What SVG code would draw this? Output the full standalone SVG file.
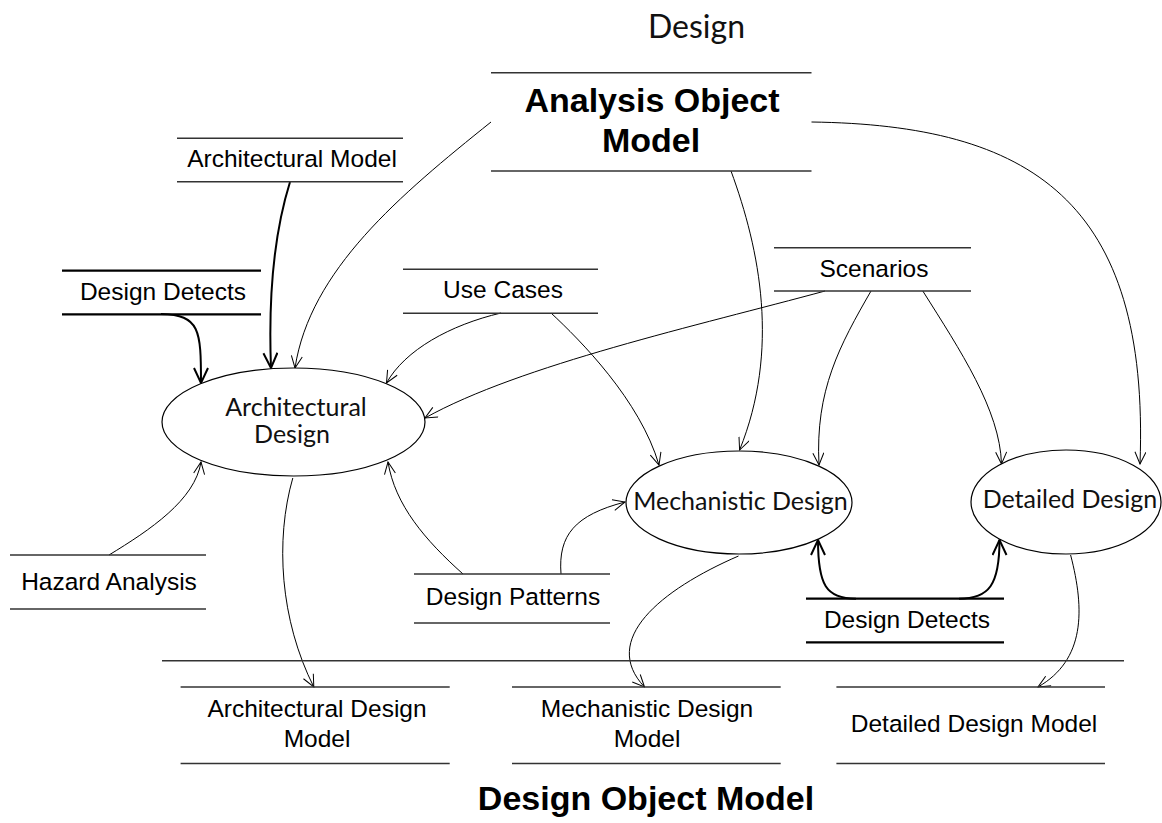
<svg xmlns="http://www.w3.org/2000/svg" width="1162" height="823" viewBox="0 0 1162 823">
  <defs>
    <style>
      .rule{stroke:#333;stroke-width:1.4}
      .rule-bold{stroke:#000;stroke-width:2.2}
      .lbl{font-family:"Liberation Sans",Arial,sans-serif;font-size:24.5px;fill:#000;text-anchor:middle}
      .big{font-family:"Liberation Sans",Arial,sans-serif;font-size:34px;font-weight:bold;fill:#000;text-anchor:middle}
      .proc{fill:#fff;stroke:#000;stroke-width:1.2}
      .ptxt{font-family:Lato,"Open Sans",sans-serif;font-size:25px;fill:#111;text-anchor:middle}
      .flow{fill:none;stroke:#000;stroke-width:1;marker-end:url(#arr)}
      .flow-bold{fill:none;stroke:#000;stroke-width:2;marker-end:url(#arrB)}
    </style>
    <marker id="arr" markerUnits="userSpaceOnUse" markerWidth="14" markerHeight="12" viewBox="0 0 14 12" refX="13" refY="6" orient="auto">
      <path d="M1,0.5 L13,6 L1,11.5" fill="none" stroke="#000" stroke-width="1"/>
    </marker>
    <marker id="arrB" markerUnits="userSpaceOnUse" markerWidth="18" markerHeight="16" viewBox="0 0 18 16" refX="16" refY="8" orient="auto">
      <path d="M1,1 L16,8 L1,15" fill="none" stroke="#000" stroke-width="2"/>
    </marker>
  </defs>
  <rect width="1162" height="823" fill="#fff"/>

  <text id="title" x="696.5" y="38" style="font-family:Lato,'Open Sans',sans-serif;font-size:32px;fill:#111;text-anchor:middle">Design</text>

  <!-- connectors -->
  <g id="connectors">
    <path class="flow" d="M491,122 C400,195 310,270 295,368"/>
    <path class="flow-bold" d="M290,182 C275,230 268,290 271,368"/>
    <path class="flow-bold" d="M161,314 C200,315 201,330 201,383"/>
    <path class="flow" d="M501,313 C450,325 405,350 386.5,383"/>
    <path class="flow" d="M825,291 C700,325 520,365 425,418"/>
    <path class="flow" d="M551,313 C580,340 640,400 659,465"/>
    <path class="flow" d="M731,171 C760,250 780,350 739.6,450"/>
    <path class="flow" d="M811.5,122 C1030,125 1150,200 1140,464"/>
    <path class="flow" d="M871,291 C840,345 815,390 819,465"/>
    <path class="flow" d="M922.8,291 C960,350 1000,410 1001.5,464"/>
    <path class="flow" d="M109,555 C150,530 195,500 201,462"/>
    <path class="flow" d="M463,574 C425,540 395,505 388,462"/>
    <path class="flow" d="M561,574 C558,535 575,515 625,502"/>
    <path class="flow-bold" d="M856,598.7 C826,598.7 818,585 818,540"/>
    <path class="flow-bold" d="M959,598.7 C989,598.7 999.5,585 999.5,540"/>
    <path class="flow" d="M292.8,478 C275,540 280,620 313.8,687"/>
    <path class="flow" d="M738.5,556 C660,590 600,640 644.5,687"/>
    <path class="flow" d="M1070.6,555 C1085,610 1085,660 1038,687"/>
  </g>

  <!-- data stores -->
  <g id="analysis-object-model">
    <line class="rule" x1="491" y1="72.7" x2="811.5" y2="72.7"/>
    <line class="rule" x1="491" y1="171" x2="811.5" y2="171"/>
    <text class="big" x="652" y="112">Analysis Object</text>
    <text class="big" x="651" y="152">Model</text>
  </g>
  <g id="architectural-model">
    <line class="rule" x1="177" y1="138.3" x2="403" y2="138.3"/>
    <line class="rule" x1="177" y1="181.7" x2="403" y2="181.7"/>
    <text class="lbl" x="292" y="167">Architectural Model</text>
  </g>
  <g id="design-detects-a">
    <line class="rule-bold" x1="62" y1="270.7" x2="261" y2="270.7"/>
    <line class="rule-bold" x1="62" y1="314.3" x2="261" y2="314.3"/>
    <text class="lbl" x="163" y="300">Design Detects</text>
  </g>
  <g id="use-cases">
    <line class="rule" x1="403" y1="269.3" x2="598" y2="269.3"/>
    <line class="rule" x1="403" y1="313.3" x2="598" y2="313.3"/>
    <text class="lbl" x="503" y="297.5">Use Cases</text>
  </g>
  <g id="scenarios">
    <line class="rule" x1="774" y1="247.7" x2="971" y2="247.7"/>
    <line class="rule" x1="774" y1="291" x2="971" y2="291"/>
    <text class="lbl" x="874" y="276.5">Scenarios</text>
  </g>
  <g id="hazard-analysis">
    <line class="rule" x1="10" y1="555" x2="206" y2="555"/>
    <line class="rule" x1="10" y1="609" x2="206" y2="609"/>
    <text class="lbl" x="109" y="589.5">Hazard Analysis</text>
  </g>
  <g id="design-patterns">
    <line class="rule" x1="414" y1="574" x2="610" y2="574"/>
    <line class="rule" x1="414" y1="623" x2="610" y2="623"/>
    <text class="lbl" x="513" y="604.5">Design Patterns</text>
  </g>
  <g id="design-detects-b">
    <line class="rule-bold" x1="806" y1="598.7" x2="1004" y2="598.7"/>
    <line class="rule-bold" x1="806" y1="642.3" x2="1004" y2="642.3"/>
    <text class="lbl" x="907" y="628">Design Detects</text>
  </g>

  <!-- processes -->
  <g id="architectural-design">
    <ellipse class="proc" cx="293.5" cy="422" rx="131.5" ry="54"/>
    <text class="ptxt" x="296" y="416">Architectural</text>
    <text class="ptxt" x="292" y="443">Design</text>
  </g>
  <g id="mechanistic-design">
    <ellipse class="proc" cx="739" cy="502.5" rx="113" ry="51.5"/>
    <text class="ptxt" x="740.5" y="510">Mechanistic Design</text>
  </g>
  <g id="detailed-design">
    <ellipse class="proc" cx="1066" cy="502" rx="95" ry="52"/>
    <text class="ptxt" x="1070" y="508">Detailed Design</text>
  </g>

  <!-- design object model -->
  <g id="design-object-model">
    <line class="rule" x1="162" y1="660.7" x2="1124" y2="660.7"/>
    <text class="big" x="646" y="810">Design Object Model</text>
  </g>
  <g id="architectural-design-model">
    <line class="rule" x1="180.6" y1="687" x2="449.7" y2="687"/>
    <line class="rule" x1="180.6" y1="763.5" x2="449.7" y2="763.5"/>
    <text class="lbl" x="317" y="717">Architectural Design</text>
    <text class="lbl" x="317" y="747">Model</text>
  </g>
  <g id="mechanistic-design-model">
    <line class="rule" x1="512" y1="687" x2="780.7" y2="687"/>
    <line class="rule" x1="512" y1="763.5" x2="780.7" y2="763.5"/>
    <text class="lbl" x="647" y="717">Mechanistic Design</text>
    <text class="lbl" x="647" y="747">Model</text>
  </g>
  <g id="detailed-design-model">
    <line class="rule" x1="836.4" y1="687" x2="1105" y2="687"/>
    <line class="rule" x1="836.4" y1="763.5" x2="1105" y2="763.5"/>
    <text class="lbl" x="974" y="732">Detailed Design Model</text>
  </g>
</svg>
